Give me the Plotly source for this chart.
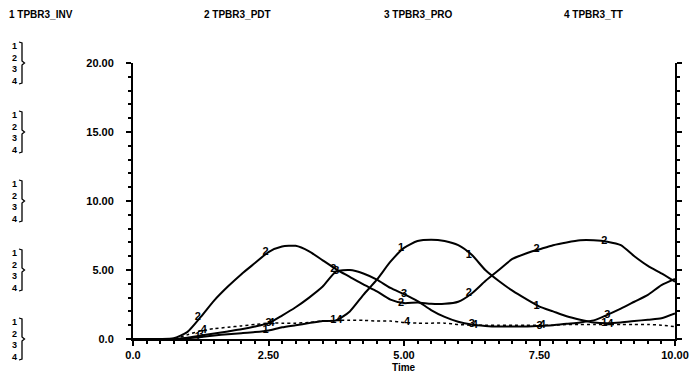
import plotly.graph_objects as go

time = [i * 0.25 for i in range(41)]

tpbr3_inv = [0, 0, 0, 0, 0.05, 0.15, 0.25, 0.35, 0.42, 0.5, 0.62, 0.85, 1.0, 1.15, 1.3, 1.35,
             2.0, 3.2, 4.3, 5.6, 6.6, 7.1, 7.2, 7.1, 6.8, 6.1, 5.0, 4.2, 3.5, 2.9, 2.35,
             2.0, 1.65, 1.4, 1.2, 1.15, 1.2, 1.3, 1.4, 1.5, 1.85]
tpbr3_pdt = [0, 0, 0, 0.05, 0.5, 1.6, 2.8, 3.8, 4.7, 5.5, 6.3, 6.7, 6.75, 6.35, 5.7, 5.05,
             4.5, 3.95, 3.45, 2.85, 2.6, 2.65, 2.55, 2.55, 2.7, 3.3, 4.2, 5.0, 5.8, 6.2, 6.5,
             6.8, 7.0, 7.15, 7.15, 7.05, 6.8, 6.0, 5.3, 4.75, 4.15]
tpbr3_pro = [0, 0, 0, 0, 0.1, 0.25, 0.4, 0.55, 0.7, 0.9, 1.15, 1.7, 2.3, 3.0, 3.8, 4.9,
             5.0, 4.75, 4.3, 3.7, 3.25, 2.75, 2.1, 1.6, 1.25, 1.05, 0.95, 0.9, 0.9, 0.9, 0.95,
             1.0, 1.1, 1.2, 1.35, 1.75, 2.2, 2.7, 3.2, 3.9, 4.35]
tpbr3_tt = [0, 0, 0, 0, 0.3, 0.6, 0.75, 0.85, 0.95, 1.05, 1.15, 1.15, 1.15, 1.2, 1.3, 1.35,
            1.35, 1.35, 1.3, 1.3, 1.2, 1.15, 1.15, 1.15, 1.05, 1.0, 1.0, 1.0, 1.0, 1.0, 1.0,
            1.0, 1.05, 1.05, 1.05, 1.05, 1.05, 1.05, 1.05, 1.0, 0.9]

series = [("1", "TPBR3_INV", tpbr3_inv, "solid", "middle left"),
          ("2", "TPBR3_PDT", tpbr3_pdt, "solid", "middle left"),
          ("3", "TPBR3_PRO", tpbr3_pro, "solid", "middle center"),
          ("4", "TPBR3_TT", tpbr3_tt, "dot", "middle right")]

label_idx = [5, 10, 15, 20, 25, 30, 35]

y_tickvals = [0, 5, 10, 15, 20]
y_ticktext = ["0.0", "5.00", "10.00", "15.00", "20.00"]
x_tickvals = [0, 2.5, 5, 7.5, 10]
x_ticktext = ["0.0", "2.50", "5.00", "7.50", "10.00"]
y_minor = list(range(0, 21))
x_minor = [i * 0.25 for i in range(41)]

# page has an 8px body margin; work in page pixels and convert
OFF = 8
W, H = 682, 367
L, R, T, B = 125, 15, 55, 36
PW, PH = W - L - R, H - T - B


def px(x):
    return (x - OFF - L) / PW


def py(y):
    return (OFF + T + PH - y) / PH


FONT = "Liberation Sans, Arial, sans-serif"

fig = go.Figure()
for num, name, vals, dash, tpos in series:
    fig.add_trace(go.Scatter(
        x=time, y=vals, mode="lines", name=name,
        line=dict(color="black", width=1.5 if dash == "dot" else 2, dash=dash, shape="spline", smoothing=0.6),
        showlegend=False))
    fig.add_trace(go.Scatter(
        x=[time[i] for i in label_idx], y=[vals[i] for i in label_idx],
        mode="text", text=["<b>%s</b>" % num] * len(label_idx), textposition=tpos,
        textfont=dict(family=FONT, size=11, color="black"),
        showlegend=False))

annotations = []
legend_x = [7, 202, 382, 562]
for (num, name, _, _, _), lx in zip(series, legend_x):
    annotations.append(dict(
        x=px(lx), y=py(14), xref="paper", yref="paper", xanchor="left", yanchor="middle",
        text="<b>%s %s</b>" % (num, name), showarrow=False,
        font=dict(family=FONT, size=10, color="black")))

shapes = []
for v in y_tickvals:
    cy = OFF + T + PH - v * PH / 20.0
    annotations.append(dict(
        x=px(14), y=py(cy), xref="paper", yref="paper", xanchor="center", yanchor="middle",
        text="<b>1<br>2<br>3<br>4</b>", showarrow=False,
        font=dict(family=FONT, size=9, color="black")))
    top, bot = cy - 21, cy + 21
    path = "M %f %f L %f %f L %f %f L %f %f L %f %f L %f %f L %f %f" % (
        px(19), py(top), px(22), py(top + 1), px(22), py(cy - 2),
        px(24.5), py(cy), px(22), py(cy + 2), px(22), py(bot - 1), px(19), py(bot))
    shapes.append(dict(type="path", xref="paper", yref="paper", path=path,
                       line=dict(color="black", width=1.3)))

annotations.append(dict(
    x=0.5, y=py(367), xref="paper", yref="paper", xanchor="center", yanchor="middle",
    text="<b>Time</b>", showarrow=False, font=dict(family=FONT, size=10, color="black")))

fig.update_layout(
    width=W, height=H,
    margin=dict(l=L, r=R, t=T, b=B, autoexpand=False),
    paper_bgcolor="white", plot_bgcolor="white",
    font=dict(family=FONT, color="black"),
    annotations=annotations, shapes=shapes,
    xaxis=dict(range=[0, 10], tickvals=x_tickvals, ticktext=["<b>%s</b>" % t for t in x_ticktext],
               automargin=False,
               showgrid=False, zeroline=False, showline=True, linecolor="black", linewidth=2,
               ticks="outside", ticklen=5, tickwidth=2, tickcolor="black",
               minor=dict(tickmode="array", tickvals=x_minor, ticks="outside", ticklen=3,
                          tickwidth=1.5, tickcolor="black", showgrid=False),
               tickfont=dict(family=FONT, size=11, color="black"), mirror=False),
    yaxis=dict(range=[0, 20], tickvals=y_tickvals, ticktext=["<b>%s</b>" % t for t in y_ticktext],
               automargin=False,
               showgrid=False, zeroline=False, showline=True, linecolor="black", linewidth=2,
               ticks="outside", ticklen=5, tickwidth=2, tickcolor="black",
               minor=dict(tickmode="array", tickvals=y_minor, ticks="outside", ticklen=3,
                          tickwidth=1.5, tickcolor="black", showgrid=False),
               tickfont=dict(family=FONT, size=11, color="black"), mirror="ticks",
               ticklabelstandoff=10),
)

fig.write_html("out.html")
